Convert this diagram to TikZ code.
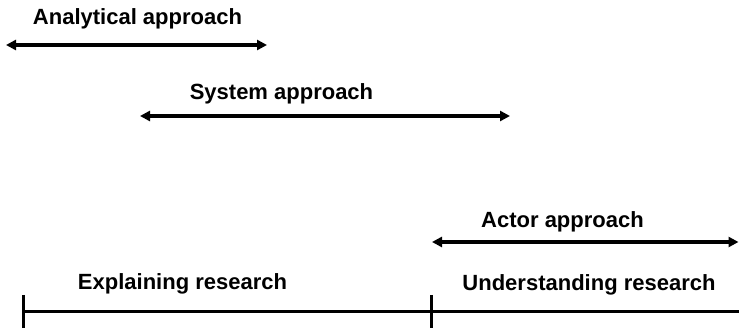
\documentclass[tikz,border=0pt]{standalone}
\usepackage{fontspec}
\setmainfont{Liberation Sans}
\usetikzlibrary{arrows.meta}
\begin{document}
\begin{tikzpicture}[x=1pt,y=-1pt,
  lbl/.style={anchor=base,inner sep=0pt,font=\fontsize{22}{24}\selectfont\bfseries},
  span/.style={line width=3.6pt,{Triangle[length=10pt,width=10pt]}-{Triangle[length=10pt,width=10pt]}},
  axisline/.style={line width=3pt}]
\useasboundingbox (0,0) rectangle (739,328);
% approach spans
\node[lbl] (tan) at (137.5,25) {Analytical approach};
\coordinate (anL) at (6,45);
\coordinate (anR) at (267,45);
\draw[span] (anL) -- (anR);

\node[lbl] (tsy) at (281.5,100) {System approach};
\coordinate (syL) at (140,116);
\coordinate (syR) at (510,116);
\draw[span] (syL) -- (syR);

\node[lbl] (tac) at (562.5,228) {Actor approach};
\coordinate (acL) at (432,242);
\coordinate (acR) at (738.5,242);
\draw[span] (acL) -- (acR);

% research axis
\node[lbl] (tex) at (182.5,290) {Explaining research};
\node[lbl] (tun) at (589,291) {Understanding research};
\coordinate (axL) at (23,312);
\coordinate (axR) at (739,312);
\coordinate (t1a) at (23,295);
\coordinate (t1b) at (23,328);
\coordinate (t2a) at (431,295);
\coordinate (t2b) at (431,328);
\draw[axisline] (axL) -- (axR);
\draw[axisline] (t1a) -- (t1b);
\draw[axisline] (t2a) -- (t2b);
\end{tikzpicture}
\end{document}
